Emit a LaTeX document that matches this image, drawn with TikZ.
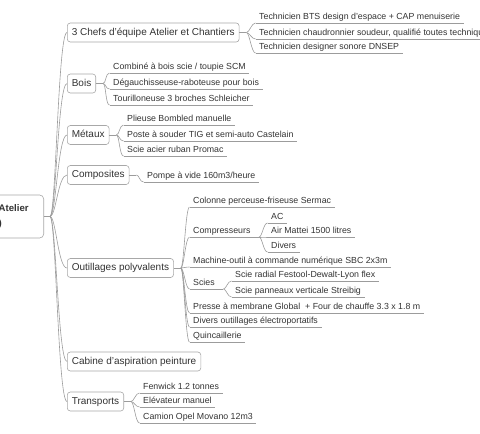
\documentclass[tikz,border=0pt]{standalone}
\usepackage{fontspec}
\setmainfont{Liberation Sans}
\definecolor{txt}{HTML}{333333}
\definecolor{boxc}{HTML}{A8A8A8}
\definecolor{linec}{HTML}{9C9C9C}
\begin{document}
\begin{tikzpicture}[x=1pt,y=-1pt,
  every node/.style={text=txt},
  root/.style={draw=boxc, line width=0.6pt, rounded corners=4pt, fill=white,
    font=\fontsize{9.6}{15}\selectfont\bfseries, text width=30pt, align=left,
    inner xsep=15pt, minimum height=43pt, anchor=east},
  main/.style={draw=boxc, line width=0.6pt, rounded corners=3pt, fill=white,
    font=\fontsize{10}{12}\selectfont, inner xsep=4.5pt, inner ysep=0pt,
    minimum height=19pt, anchor=west, text height=7.2pt, text depth=2pt},
  leaf/.style={font=\fontsize{8.8}{10}\selectfont, inner xsep=3.5pt, inner ysep=1.2pt,
    text height=6.5pt, text depth=1.8pt, anchor=south west},
  conn/.style={draw=linec, line width=0.6pt},
]
\useasboundingbox (0,0) rectangle (480,434);

% root and main topics
\node[root] (root) at (44,216.5) {Atelier\\)};
\coordinate (rf) at (50,216.5);
\node[main] (chefs) at (67,32.5) {3 Chefs d'équipe Atelier et Chantiers};
\node[main] (bois) at (67,83.5) {Bois};
\node[main] (metaux) at (67,135) {Métaux};
\node[main] (compo) at (67,175) {Composites};
\node[main] (outil) at (67,268) {Outillages polyvalents};
\node[main] (cabine) at (67,361.5) {Cabine d'aspiration peinture};
\node[main] (transp) at (67,401.5) {Transports};

\draw[conn] (root.east) -- (rf);
\foreach \m in {chefs,bois,metaux,compo,outil,cabine,transp}{
  \draw[conn] (rf) .. controls +(6,0) and +(-9,0) .. (\m.west);
}

% forks
\coordinate (cf) at ([xshift=7pt]chefs.east);
\coordinate (bf) at ([xshift=7pt]bois.east);
\coordinate (mf) at ([xshift=7pt]metaux.east);
\coordinate (pf) at ([xshift=7pt]compo.east);
\coordinate (of) at ([xshift=7pt]outil.east);
\coordinate (tf) at ([xshift=7pt]transp.east);
\draw[conn] (chefs.east) -- (cf);
\draw[conn] (bois.east) -- (bf);
\draw[conn] (metaux.east) -- (mf);
\draw[conn] (compo.east) -- (pf);
\draw[conn] (outil.east) -- (of);
\draw[conn] (transp.east) -- (tf);

% leaves of 3 Chefs
\foreach \n/\y/\t in {c1/23/{Technicien BTS design d'espace + CAP menuiserie},
  c2/39/{Technicien chaudronnier soudeur, qualifié toutes techniques},
  c3/53/{Technicien designer sonore DNSEP}}{
  \node[leaf] (\n) at (255.5,\y) {\t};
  \draw[conn] (\n.south west) -- (\n.south east);
  \draw[conn] (cf) .. controls +(3,0) and +(-4,0) .. (\n.south west);
}
% Bois
\foreach \n/\y/\t in {b1/73/{Combiné à bois scie / toupie SCM},
  b2/89/{Dégauchisseuse-raboteuse pour bois},
  b3/105/{Tourilloneuse 3 broches Schleicher}}{
  \node[leaf] (\n) at (109.5,\y) {\t};
  \draw[conn] (\n.south west) -- (\n.south east);
  \draw[conn] (bf) .. controls +(3,0) and +(-4,0) .. (\n.south west);
}
% Metaux
\foreach \n/\y/\t in {m1/125/{Plieuse Bombled manuelle},
  m2/141/{Poste à souder TIG et semi-auto Castelain},
  m3/156/{Scie acier ruban Promac}}{
  \node[leaf] (\n) at (123.5,\y) {\t};
  \draw[conn] (\n.south west) -- (\n.south east);
  \draw[conn] (mf) .. controls +(3,0) and +(-4,0) .. (\n.south west);
}
% Composites
\node[leaf] (p1) at (143.5,182) {Pompe à vide 160m3/heure};
\draw[conn] (p1.south west) -- (p1.south east);
\draw[conn] (pf) .. controls +(3,0) and +(-4,0) .. (p1.south west);
% Outillages
\foreach \n/\y/\t in {o1/207/{Colonne perceuse-friseuse Sermac},
  o2/237/{Compresseurs},
  o3/267/{Machine-outil à commande numérique SBC 2x3m},
  o4/289/{Scies},
  o5/313/{Presse à membrane Global\ \ + Four de chauffe 3.3 x 1.8 m},
  o6/327/{Divers outillages électroportatifs},
  o7/342/{Quincaillerie}}{
  \node[leaf] (\n) at (189.5,\y) {\t};
  \draw[conn] (\n.south west) -- (\n.south east);
  \draw[conn] (of) .. controls +(3,0) and +(-4,0) .. (\n.south west);
}
% Compresseurs
\coordinate (kf) at ([xshift=5pt]o2.south east);
\draw[conn] (o2.south east) -- (kf);
\foreach \n/\y/\t in {k1/223/{AC}, k2/237/{Air Mattei 1500 litres}, k3/252/{Divers}}{
  \node[leaf] (\n) at (267.5,\y) {\t};
  \draw[conn] (\n.south west) -- (\n.south east);
  \draw[conn] (kf) .. controls +(3,0) and +(-4,0) .. (\n.south west);
}
% Scies
\coordinate (sf) at ([xshift=5pt]o4.south east);
\draw[conn] (o4.south east) -- (sf);
\foreach \n/\y/\t in {s1/281/{Scie radial Festool-Dewalt-Lyon flex}, s2/297/{Scie panneaux verticale Streibig}}{
  \node[leaf] (\n) at (231.5,\y) {\t};
  \draw[conn] (\n.south west) -- (\n.south east);
  \draw[conn] (sf) .. controls +(3,0) and +(-4,0) .. (\n.south west);
}
% Transports
\foreach \n/\y/\t in {t1/393/{Fenwick 1.2 tonnes}, t2/407/{Elévateur manuel}, t3/423/{Camion Opel Movano 12m3}}{
  \node[leaf] (\n) at (139.5,\y) {\t};
  \draw[conn] (\n.south west) -- (\n.south east);
  \draw[conn] (tf) .. controls +(3,0) and +(-4,0) .. (\n.south west);
}
\end{tikzpicture}
\end{document}
